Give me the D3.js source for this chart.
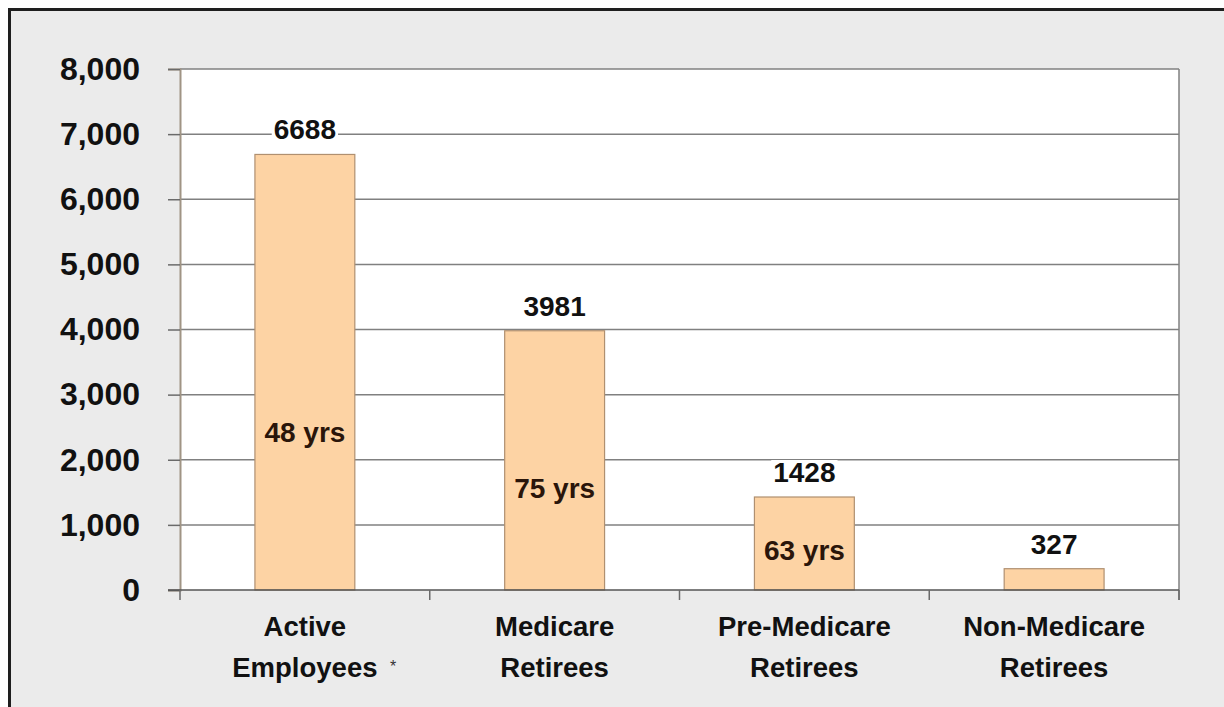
<!DOCTYPE html>
<html>
<head>
<meta charset="utf-8">
<script src="https://cdn.jsdelivr.net/npm/d3@7"></script>
<style>
  html, body { margin: 0; padding: 0; background: #ffffff; }
  svg { display: block; }
  text { font-family: "Liberation Sans", Arial, sans-serif; }
</style>
</head>
<body>
<svg id="chart" width="1224" height="707"></svg>
<script>
// ---- data ----
const categories = [["Active", "Employees"], ["Medicare", "Retirees"], ["Pre-Medicare", "Retirees"], ["Non-Medicare", "Retirees"]];
const categoryKeys = ["Active Employees", "Medicare Retirees", "Pre-Medicare Retirees", "Non-Medicare Retirees"];
const counts = [6688, 3981, 1428, 327];
const averageAges = ["48 yrs", "75 yrs", "63 yrs", null];
const ageLabelAt = [2270, 1410, 460, null];
const yTicks = [0, 1000, 2000, 3000, 4000, 5000, 6000, 7000, 8000];

// ---- layout ----
const svg = d3.select("#chart");
const W = 1224, H = 707;
const plot = { left: 180, right: 1179, top: 69, bottom: 590 };

// outer frame
svg.append("rect").attr("x", 9.5).attr("y", 9.5).attr("width", W + 20).attr("height", H + 20)
  .attr("fill", "#ebebeb").attr("stroke", "#1e1e1e").attr("stroke-width", 3);

const x = d3.scaleBand().domain(categoryKeys).range([plot.left, plot.right])
  .paddingInner(0.6).paddingOuter(0.3);
const y = d3.scaleLinear().domain([0, 8000]).range([plot.bottom, plot.top]);

// plot background
svg.append("rect").attr("x", plot.left).attr("y", plot.top)
  .attr("width", plot.right - plot.left).attr("height", plot.bottom - plot.top)
  .attr("fill", "#ffffff");

// gridlines
svg.append("g").selectAll("line").data(yTicks.filter(d => d > 0)).join("line")
  .attr("x1", plot.left).attr("x2", plot.right)
  .attr("y1", d => y(d)).attr("y2", d => y(d))
  .attr("stroke", "#808080").attr("stroke-width", 1.5);

// right border
svg.append("line").attr("x1", plot.right).attr("x2", plot.right)
  .attr("y1", plot.top).attr("y2", plot.bottom + 10)
  .attr("stroke", "#808080").attr("stroke-width", 1.5);

// y axis
const yAxis = svg.append("g").attr("transform", `translate(${plot.left},0)`)
  .call(d3.axisLeft(y).tickValues(yTicks).tickSize(12).tickPadding(28).tickFormat(d3.format(",")));
yAxis.select(".domain").attr("stroke", "#a09484").attr("stroke-width", 2);
yAxis.selectAll(".tick line").attr("stroke", "#6a6a6a").attr("stroke-width", 1.5);
yAxis.selectAll(".tick text").attr("font-size", 32).attr("font-weight", "bold").attr("fill", "#111");

// bars
svg.append("g").selectAll("rect").data(counts).join("rect")
  .attr("x", (d, i) => x(categoryKeys[i]))
  .attr("y", d => y(d))
  .attr("width", x.bandwidth())
  .attr("height", d => y(0) - y(d))
  .attr("fill", "#fdd3a4").attr("stroke", "#b09070").attr("stroke-width", 1.2);

// x axis
const xBounds = [plot.left, ...categoryKeys.map(k => x(k) - x.step() * x.paddingInner() / 2 + x.step()).slice(0, 3), plot.right];
svg.append("line").attr("x1", plot.left - 12).attr("x2", plot.right)
  .attr("y1", plot.bottom).attr("y2", plot.bottom)
  .attr("stroke", "#555").attr("stroke-width", 1.5);
svg.append("g").selectAll("line").data(xBounds).join("line")
  .attr("x1", d => d).attr("x2", d => d)
  .attr("y1", plot.bottom).attr("y2", plot.bottom + 10)
  .attr("stroke", "#6a6a6a").attr("stroke-width", 1.5);

// category labels
const catG = svg.append("g");
categories.forEach((lines, i) => {
  const cx = x(categoryKeys[i]) + x.bandwidth() / 2;
  const t = catG.append("text").attr("x", cx).attr("y", 636)
    .attr("text-anchor", "middle").attr("font-size", 27.5).attr("font-weight", "bold").attr("fill", "#111");
  t.append("tspan").attr("x", cx).attr("dy", 0).text(lines[0]);
  t.append("tspan").attr("x", cx).attr("dy", 41).text(lines[1]);
});
// asterisk after "Employees"
svg.append("text")
  .attr("x", x(categoryKeys[0]) + x.bandwidth() / 2 + 85).attr("y", 672)
  .attr("font-size", 16).attr("fill", "#333").text("*");

// value labels with white backing
const valG = svg.append("g");
counts.forEach((d, i) => {
  const cx = x(categoryKeys[i]) + x.bandwidth() / 2;
  const by = y(d) - 15;
  const t = valG.append("text").attr("x", cx).attr("y", by)
    .attr("text-anchor", "middle").attr("font-size", 28).attr("font-weight", "bold")
    .attr("fill", "#111").text(d);
  const bb = t.node().getBBox();
  valG.insert("rect", "text").attr("x", bb.x - 2).attr("y", bb.y + 3)
    .attr("width", bb.width + 4).attr("height", bb.height - 4).attr("fill", "#ffffff");
});

// age labels inside bars
svg.append("g").selectAll("text").data(averageAges.map((a, i) => ({ a, i })).filter(d => d.a))
  .join("text")
  .attr("x", d => x(categoryKeys[d.i]) + x.bandwidth() / 2)
  .attr("y", d => y(ageLabelAt[d.i]))
  .attr("text-anchor", "middle").attr("font-size", 28).attr("font-weight", "bold")
  .attr("fill", "#2a150a").text(d => d.a);
</script>
</body>
</html>
